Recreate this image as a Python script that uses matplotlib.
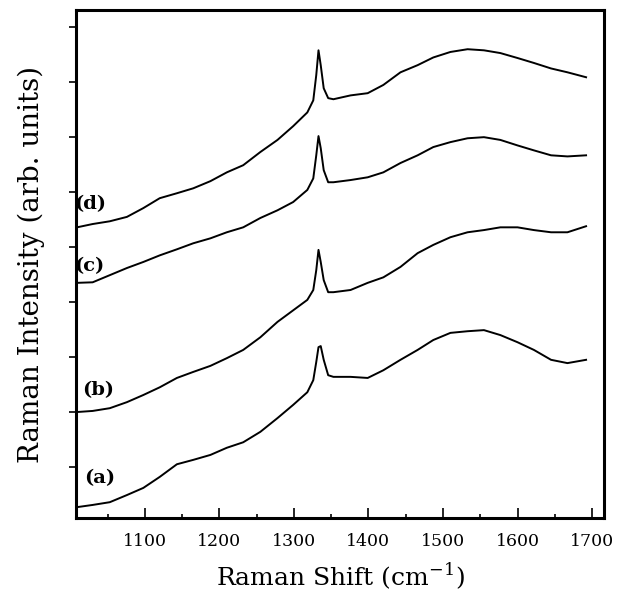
import matplotlib
matplotlib.use('Agg')
from matplotlib import pyplot as plt
from matplotlib.ticker import MultipleLocator

# Raman shift (cm-1) sampled along the traces
shift = [1009, 1030, 1053, 1076, 1098, 1120, 1143, 1165, 1188, 1210, 1232, 1255,
         1278, 1299, 1318, 1326, 1330, 1333, 1336, 1340, 1346, 1353, 1376, 1399,
         1420, 1443, 1466, 1487, 1510, 1533, 1555, 1577, 1600, 1622, 1645, 1667, 1692]

# intensities (arb. units, curves already offset as in the figure)
int_a = [-0.73, -0.69, -0.64, -0.51, -0.38, -0.18, 0.05, 0.13, 0.22, 0.35, 0.45, 0.64,
         0.89, 1.13, 1.36, 1.58, 1.91, 2.18, 2.20, 1.95, 1.67, 1.64, 1.64, 1.62,
         1.76, 1.95, 2.13, 2.31, 2.44, 2.47, 2.49, 2.40, 2.27, 2.13, 1.95, 1.89, 1.95]
int_b = [1.00, 1.02, 1.07, 1.18, 1.31, 1.45, 1.62, 1.73, 1.84, 1.98, 2.13, 2.36,
         2.64, 2.85, 3.04, 3.22, 3.58, 3.95, 3.73, 3.40, 3.18, 3.18, 3.22, 3.35,
         3.45, 3.64, 3.89, 4.04, 4.18, 4.27, 4.31, 4.36, 4.36, 4.31, 4.27, 4.27, 4.38]
int_c = [3.35, 3.36, 3.49, 3.62, 3.73, 3.85, 3.96, 4.07, 4.16, 4.27, 4.36, 4.53,
         4.67, 4.82, 5.04, 5.25, 5.67, 6.02, 5.80, 5.40, 5.18, 5.18, 5.22, 5.27,
         5.36, 5.53, 5.67, 5.82, 5.91, 5.98, 6.00, 5.95, 5.85, 5.76, 5.67, 5.65, 5.67]
int_d = [4.36, 4.42, 4.47, 4.55, 4.71, 4.89, 4.98, 5.07, 5.20, 5.36, 5.49, 5.73,
         5.95, 6.20, 6.45, 6.67, 7.13, 7.58, 7.31, 6.89, 6.71, 6.69, 6.76, 6.80,
         6.95, 7.18, 7.31, 7.45, 7.55, 7.60, 7.58, 7.53, 7.44, 7.35, 7.25, 7.18, 7.09]

labels = ['(a)', '(b)', '(c)', '(d)']
label_x = [1040, 1037, 1026, 1026]
label_y = [-0.2, 1.4, 3.65, 4.78]

fig = plt.figure(figsize=(6.22, 5.99), dpi=100)
ax = fig.add_axes([0.122, 0.135, 0.849, 0.848])

for y in (int_a, int_b, int_c, int_d):
    ax.plot(shift, y, color='black', lw=1.4)

for t, x, y in zip(labels, label_x, label_y):
    ax.text(x, y, t, family='DejaVu Serif', fontweight='bold', fontsize=14,
            ha='center', va='center')

ax.set_xlim(1007.5, 1716)
ax.set_ylim(-0.93, 8.31)
ax.xaxis.set_minor_locator(MultipleLocator(50))
ax.set_xticks(range(1100, 1701, 100))
ax.set_yticks(range(0, 9))
ax.set_yticklabels([])
ax.tick_params(axis='x', direction='in', length=7, width=1.2, labelsize=12.5, pad=11)
ax.tick_params(axis='x', which='minor', direction='in', length=3, width=1.2)
ax.tick_params(axis='y', direction='out', length=5, width=1.2)
for lab in ax.get_xticklabels():
    lab.set_family('DejaVu Serif')
for s in ax.spines.values():
    s.set_linewidth(2.2)

ax.set_xlabel('Raman Shift (cm$^{\\mathregular{-1}}$)', family='DejaVu Serif', fontsize=18, labelpad=8)
ax.set_ylabel('Raman Intensity (arb. units)', family='DejaVu Serif', fontsize=20, labelpad=14)

fig.savefig('out.png', dpi=100)
